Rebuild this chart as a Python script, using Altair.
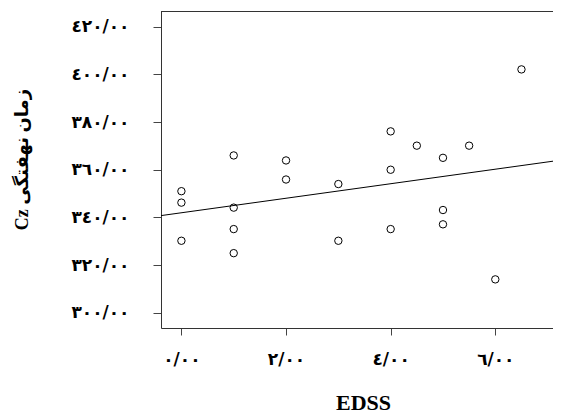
import altair as alt
import pandas as pd

# Data
edss = [0, 0, 0, 1, 1, 1, 1, 2, 2, 3, 3, 4, 4, 4, 4.5, 5, 5, 5, 5.5, 6, 6.5]
latency = [351.0, 346.2, 330.2, 366.0, 344.1, 335.1, 325.0, 363.9, 355.9, 354.0,
           330.2, 376.1, 360.0, 335.1, 370.1, 365.0, 343.1, 337.1, 370.1, 314.0, 402.1]

x_ticks = [0, 2, 4, 6]
x_tick_labels = ["٠/٠٠", "٢/٠٠", "٤/٠٠", "٦/٠٠"]
y_ticks = [300, 320, 340, 360, 380, 400, 420]
y_tick_labels = ["٣٠٠/٠٠", "٣٢٠/٠٠", "٣٤٠/٠٠", "٣٦٠/٠٠", "٣٨٠/٠٠", "٤٠٠/٠٠", "٤٢٠/٠٠"]

x_domain = [-0.39, 7.275]
y_domain = [293.6, 426.6]

x_title = "EDSS"
y_title = "\u2067زمان نهفتگی Cz\u2069"

df = pd.DataFrame({"edss": edss, "latency": latency})

W, H = 401, 317
FRAME = "#333333"


def label_expr(values, labels):
    expr = "''"
    for v, l in reversed(list(zip(values, labels))):
        expr = f"datum.value == {v} ? '{l}' : ({expr})"
    return expr


x_enc = alt.X(
    "edss:Q",
    scale=alt.Scale(domain=x_domain, nice=False, zero=False),
    axis=alt.Axis(
        values=x_ticks,
        labelExpr=label_expr(x_ticks, x_tick_labels),
        title=x_title,
        domain=True,
        domainColor=FRAME,
        grid=False,
        tickSize=7,
        tickColor="#444444",
        labelPadding=16,
        labelFont="DejaVu Sans",
        labelFontWeight="bold",
        labelFontSize=17,
        labelColor="#000000",
        titleFont="Liberation Serif",
        titleFontWeight="bold",
        titleFontSize=22,
        titleColor="#000000",
        titleX=202,
        titleY=81,
        titleBaseline="alphabetic",
    ),
)
y_enc = alt.Y(
    "latency:Q",
    scale=alt.Scale(domain=y_domain, nice=False, zero=False),
    axis=alt.Axis(
        values=y_ticks,
        labelExpr=label_expr(y_ticks, y_tick_labels),
        title=y_title,
        domain=True,
        domainColor=FRAME,
        grid=False,
        tickSize=8,
        tickColor="#444444",
        labelPadding=24,
        labelFont="DejaVu Sans",
        labelFontWeight="bold",
        labelFontSize=17,
        labelColor="#000000",
        titleFont="Liberation Serif, DejaVu Sans",
        titleFontWeight="bold",
        titleFontSize=18,
        titleColor="#000000",
        titleX=-134,
        titleY=148,
        titleAngle=270,
        titleAlign="center",
        titleBaseline="alphabetic",
    ),
)

points = alt.Chart(df).mark_point(
    shape="circle", filled=False, color="#000000", size=55, strokeWidth=1, opacity=1
).encode(x=x_enc, y=y_enc)

line = alt.Chart(df).transform_regression(
    "edss", "latency", extent=x_domain
).mark_line(color="#000000", strokeWidth=1, clip=True).encode(
    x=alt.X("edss:Q"), y=alt.Y("latency:Q")
)

top_border = alt.Chart(df).mark_rule(color=FRAME, strokeWidth=1).encode(
    x=alt.value(0), x2=alt.value(W), y=alt.value(0.5)
)

chart = alt.layer(points, line, top_border).properties(
    width=W,
    height=H,
    autosize=alt.AutoSizeParams(type="none"),
    padding={"left": 153, "top": 3, "right": -9, "bottom": 87},
    background="white",
).configure_view(stroke=None)

chart.save("out.html", embed_options={"renderer": "svg", "actions": False})
